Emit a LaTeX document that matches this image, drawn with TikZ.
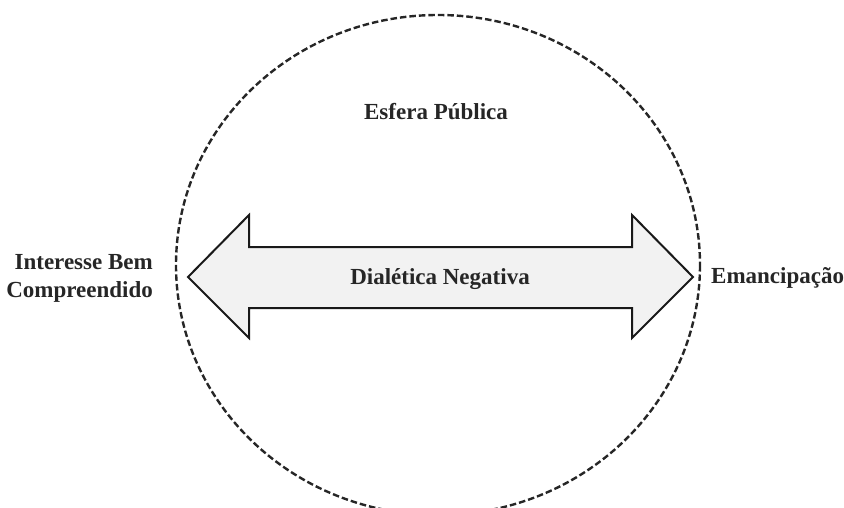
\documentclass[tikz,border=0pt]{standalone}
\usepackage{fontspec}
\setmainfont{Liberation Serif}
\begin{document}
\begin{tikzpicture}[x=1pt,y=-1pt,
  lbl/.style={font=\fontsize{23}{28}\selectfont\bfseries, text=black!85, inner sep=0pt},
  ring/.style={draw=black!85, line width=2.4pt, dash pattern=on 6.5pt off 3pt},
  bigarrow/.style={draw=black!90, line width=2pt, fill=black!5, line join=miter}]
\useasboundingbox (0,0) rectangle (844,508);
\draw[ring] (438,265) ellipse [x radius=262, y radius=250];
\coordinate (lt) at (188,277);
\coordinate (rt) at (693,277);
\draw[bigarrow] (lt) -- (249,215) -- (249,247) -- (632,247) -- (632,215) -- (rt)
  -- (632,338) -- (632,308) -- (249,308) -- (249,338) -- cycle;
\node[lbl] (esfera) at (436,112) {Esfera Pública};
\node[lbl] (dial) at (440,279) {Dialética Negativa};
\node[lbl, align=right, anchor=east] (interesse) at (153,278) {Interesse Bem\\Compreendido};
\node[lbl, anchor=west] (eman) at (711,278) {Emancipação};
\end{tikzpicture}
\end{document}
